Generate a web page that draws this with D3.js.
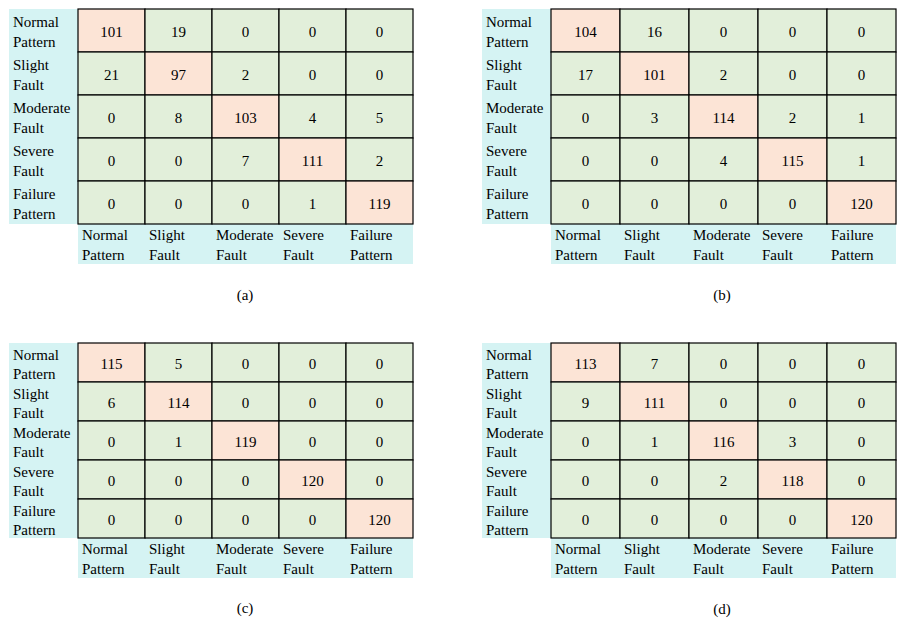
<!DOCTYPE html>
<html><head><meta charset="utf-8">
<script src="https://cdn.jsdelivr.net/npm/d3@7"></script>
<style>body{margin:0;background:#fff}svg{display:block}text{font-family:"Liberation Serif","Times New Roman",serif;fill:#000}</style>
</head><body><svg id="c" width="906" height="627"></svg>
<script>
const classes = [["Normal","Pattern"],["Slight","Fault"],["Moderate","Fault"],["Severe","Fault"],["Failure","Pattern"]];
const captions = ["(a)","(b)","(c)","(d)"];
const matA = [[101,19,0,0,0],[21,97,2,0,0],[0,8,103,4,5],[0,0,7,111,2],[0,0,0,1,119]];
const matB = [[104,16,0,0,0],[17,101,2,0,0],[0,3,114,2,1],[0,0,4,115,1],[0,0,0,0,120]];
const matC = [[115,5,0,0,0],[6,114,0,0,0],[0,1,119,0,0],[0,0,0,120,0],[0,0,0,0,120]];
const matD = [[113,7,0,0,0],[9,111,0,0,0],[0,1,116,3,0],[0,0,2,118,0],[0,0,0,0,120]];
const mats = [matA, matB, matC, matD];

const layout = [
  {lx:9,  x0:78,  x1:413, y0:9,   y1:224, by:264, cx:245, cy:295},
  {lx:482,x0:551, x1:896, y0:9,   y1:224, by:264, cx:722, cy:295},
  {lx:9,  x0:78,  x1:413, y0:343, y1:538, by:578, cx:245, cy:608},
  {lx:482,x0:551, x1:896, y0:343, y1:538, by:578, cx:722, cy:609}
];
const CYAN="#d5f3f3", GREEN="#e2efda", PEACH="#fce4d6";
const svg = d3.select("#c");
const idx = d3.range(classes.length);

mats.forEach((m,p)=>{
  const L = layout[p];
  const g = svg.append("g");
  const x = d3.scaleBand().domain(idx).range([L.x0, L.x1]);
  const y = d3.scaleBand().domain(idx).range([L.y0, L.y1]);
  const lh = (L.y1-L.y0)/5 > 41 ? 20 : 19;
  g.append("rect").attr("x",L.lx).attr("y",L.y0).attr("width",L.x0-L.lx).attr("height",L.y1-L.y0).attr("fill",CYAN);
  g.append("rect").attr("x",L.x0).attr("y",L.y1).attr("width",L.x1-L.x0).attr("height",L.by-L.y1).attr("fill",CYAN);
  const cells = [];
  m.forEach((row,i)=>row.forEach((v,j)=>cells.push({i,j,v})));
  g.selectAll("rect.cell").data(cells).enter().append("rect")
    .attr("class","cell")
    .attr("x",d=>x(d.j)).attr("y",d=>y(d.i))
    .attr("width",x.bandwidth()).attr("height",y.bandwidth())
    .attr("fill",d=>d.i===d.j?PEACH:GREEN)
    .attr("stroke","#000").attr("stroke-width",1.2);
  g.selectAll("text.val").data(cells).enter().append("text")
    .attr("class","val")
    .attr("x",d=>x(d.j)+x.bandwidth()/2).attr("y",d=>y(d.i)+y.bandwidth()/2+1.5)
    .attr("text-anchor","middle").attr("dominant-baseline","central")
    .attr("font-size",15).text(d=>d.v);
  idx.forEach(i=>{
    const cy = y(i)+y.bandwidth()/2+1.5;
    const t = g.append("text").attr("x",L.lx+4).attr("font-size",15);
    t.append("tspan").attr("x",L.lx+4).attr("y",cy-lh/2).attr("dominant-baseline","central").text(classes[i][0]);
    t.append("tspan").attr("x",L.lx+4).attr("y",cy+lh/2).attr("dominant-baseline","central").text(classes[i][1]);
  });
  idx.forEach(j=>{
    const cy = (L.y1+L.by)/2+1;
    const t = g.append("text").attr("font-size",15);
    t.append("tspan").attr("x",x(j)+4).attr("y",cy-10).attr("dominant-baseline","central").text(classes[j][0]);
    t.append("tspan").attr("x",x(j)+4).attr("y",cy+10).attr("dominant-baseline","central").text(classes[j][1]);
  });
  g.append("text").attr("x",L.cx).attr("y",L.cy).attr("text-anchor","middle")
    .attr("dominant-baseline","central").attr("font-size",15).text(captions[p]);
});
</script></body></html>
